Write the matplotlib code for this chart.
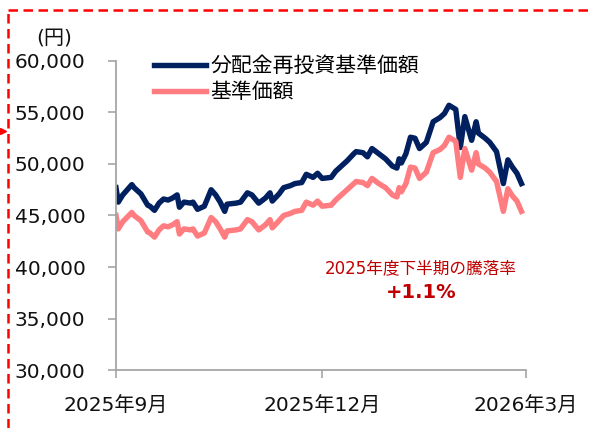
import matplotlib
matplotlib.use('Agg')
import matplotlib.pyplot as plt
from matplotlib.lines import Line2D
import pandas as pd

plt.rcParams['font.family'] = ['DejaVu Sans', 'Noto Sans CJK JP']

dates = ['2025-09-01', '2025-09-02', '2025-09-04', '2025-09-08', '2025-09-09', '2025-09-12',
         '2025-09-15', '2025-09-16', '2025-09-18', '2025-09-20', '2025-09-22', '2025-09-24',
         '2025-09-26', '2025-09-28', '2025-09-29', '2025-10-01', '2025-10-04', '2025-10-05',
         '2025-10-07', '2025-10-10', '2025-10-13', '2025-10-15', '2025-10-17', '2025-10-19',
         '2025-10-20', '2025-10-24', '2025-10-26', '2025-10-29', '2025-10-31', '2025-11-03',
         '2025-11-06', '2025-11-08', '2025-11-09', '2025-11-12', '2025-11-14', '2025-11-17',
         '2025-11-19', '2025-11-22', '2025-11-24', '2025-11-27', '2025-11-29', '2025-12-01',
         '2025-12-05', '2025-12-07', '2025-12-10', '2025-12-12', '2025-12-15', '2025-12-16',
         '2025-12-19', '2025-12-21', '2025-12-23', '2025-12-26', '2025-12-29', '2026-01-01',
         '2026-01-03', '2026-01-04', '2026-01-05', '2026-01-07', '2026-01-09', '2026-01-11',
         '2026-01-13', '2026-01-16', '2026-01-19', '2026-01-22', '2026-01-24', '2026-01-26',
         '2026-01-29', '2026-01-31', '2026-02-02', '2026-02-05', '2026-02-07', '2026-02-08',
         '2026-02-11', '2026-02-13', '2026-02-16', '2026-02-19', '2026-02-21', '2026-02-23',
         '2026-02-25', '2026-02-27']

# 分配金再投資基準価額 (円)
reinvested = [47700, 46300, 47000, 48000, 47700, 47100, 46000, 45900, 45500, 46200, 46600, 46500,
              46700, 47000, 45800, 46300, 46200, 46300, 45600, 45900, 47500, 47000, 46300, 45400,
              46100, 46200, 46300, 47200, 47000, 46200, 46700, 47200, 46400, 47100, 47700, 47900,
              48100, 48200, 49000, 48700, 49100, 48600, 48700, 49300, 49900, 50300, 51000, 51200,
              51100, 50700, 51500, 51000, 50500, 49800, 49600, 50500, 50100, 51000, 52600, 52500,
              51500, 52100, 54100, 54500, 54900, 55700, 55300, 51600, 54600, 52300, 54100, 53000,
              52500, 52100, 51200, 48100, 50400, 49700, 49100, 48100]

# 基準価額 (円)
nav = [45000, 43700, 44400, 45300, 45000, 44500, 43400, 43300, 42900, 43600, 44000, 43900,
       44100, 44400, 43200, 43700, 43600, 43700, 43000, 43300, 44800, 44400, 43700, 42900,
       43500, 43600, 43700, 44600, 44400, 43600, 44100, 44600, 43800, 44500, 45000, 45200,
       45400, 45500, 46300, 46000, 46400, 45900, 46000, 46500, 47100, 47500, 48100, 48300,
       48200, 47900, 48600, 48100, 47700, 47000, 46800, 47700, 47300, 48100, 49700, 49600,
       48600, 49200, 51100, 51400, 51800, 52600, 52200, 48700, 51500, 49400, 51100, 50000,
       49600, 49200, 48300, 45400, 47600, 46900, 46400, 45400]

tick_dates = ['2025-09-01', '2025-12-01', '2026-03-01']
tick_labels = ['2025年9月', '2025年12月', '2026年3月']

x = pd.to_datetime(dates)

fig = plt.figure(figsize=(5.93, 4.28), dpi=100)
ax = fig.add_axes([0.1956, 0.1355, 0.6914, 0.722])

ax.plot(x, reinvested, color='#002060', linewidth=3.9, solid_joinstyle='round', label='分配金再投資基準価額')
ax.plot(x, nav, color='#FF7C80', linewidth=3.9, solid_joinstyle='round', label='基準価額')

ax.set_xlim(pd.Timestamp('2025-09-01'), pd.Timestamp('2026-03-01'))
ax.set_ylim(30000, 60000)
ax.set_yticks(range(30000, 60001, 5000))
ax.set_yticklabels([f'{v:,}' for v in range(30000, 60001, 5000)])
ax.set_xticks(pd.to_datetime(tick_dates))
ax.set_xticklabels(tick_labels)

for s in ['top', 'right']:
    ax.spines[s].set_visible(False)
for s in ['left', 'bottom']:
    ax.spines[s].set_color('#A6A6A6')
    ax.spines[s].set_linewidth(1.3)
ax.tick_params(axis='y', length=6, width=1.2, color='#A6A6A6', labelsize=14.5, pad=16, labelcolor='#111111')
ax.tick_params(axis='x', length=6, width=1.2, color='#A6A6A6', labelsize=14.5, pad=13, labelcolor='#111111')

fig.text(54 / 593, 1 - 38 / 428, '(円)', fontsize=14.5, ha='center', va='center', color='#111111')

ax.legend(loc='upper left', bbox_to_anchor=(154 / 593, 1 - 56 / 428), bbox_transform=fig.transFigure,
          frameon=False, fontsize=15, handlelength=2.5, handletextpad=0.2, labelspacing=0.3,
          borderpad=0, borderaxespad=0)

ax.text(0.744, 0.33, '2025年度下半期の騰落率', transform=ax.transAxes, ha='center', va='center',
        fontsize=12, color='#C00000')
ax.text(0.744, 0.25, '+1.1%', transform=ax.transAxes, ha='center', va='center',
        fontsize=14, fontweight='bold', color='#C00000')

# red dashed frame
fig.add_artist(Line2D([8 / 593, 8 / 593], [0, 1 - 10 / 428], color='#FF0000', linewidth=1.8,
                      linestyle=(0, (3.8, 2.2)), transform=fig.transFigure))
fig.add_artist(Line2D([8 / 593, 1], [1 - 10 / 428, 1 - 10 / 428], color='#FF0000', linewidth=1.8,
                      linestyle=(0, (3.8, 2.2)), transform=fig.transFigure))
fig.add_artist(Line2D([3 / 593], [1 - 131 / 428], marker='>', markersize=5, color='#FF0000',
                      transform=fig.transFigure))

fig.savefig('out.png', dpi=100)
